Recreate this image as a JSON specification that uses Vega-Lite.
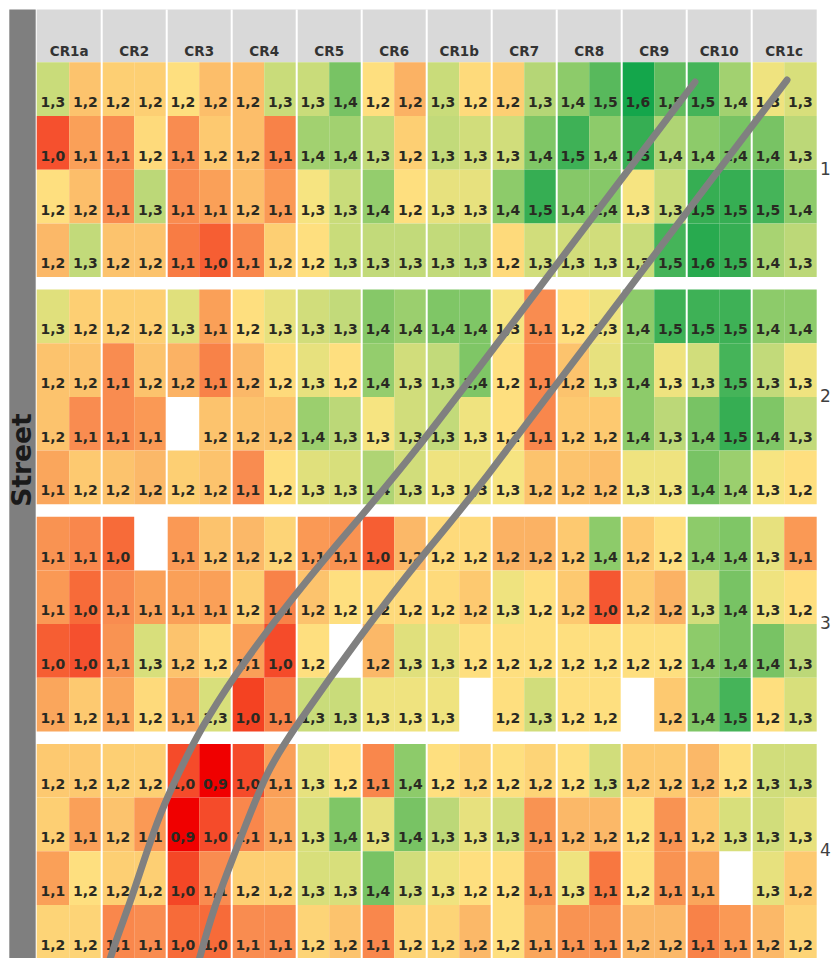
{
"$schema": "https://vega.github.io/schema/vega-lite/v6.json",
"width": 834, "height": 958, "autosize": {"type": "none"}, "padding": 0,
"background": "white",
"config": {"view": {"stroke": null}},
"datasets": {
"cells": [
{"b":1,"r":1,"c":0,"v":1.3,"s":1.32},{"b":1,"r":1,"c":1,"v":1.2,"s":1.19},{"b":1,"r":1,"c":2,"v":1.2,"s":1.21},{"b":1,"r":1,"c":3,"v":1.2,"s":1.21},{"b":1,"r":1,"c":4,"v":1.2,"s":1.24},{"b":1,"r":1,"c":5,"v":1.2,"s":1.18},{"b":1,"r":1,"c":6,"v":1.2,"s":1.18},{"b":1,"r":1,"c":7,"v":1.3,"s":1.32},{"b":1,"r":1,"c":8,"v":1.3,"s":1.32},{"b":1,"r":1,"c":9,"v":1.4,"s":1.44},{"b":1,"r":1,"c":10,"v":1.2,"s":1.24},{"b":1,"r":1,"c":11,"v":1.2,"s":1.16},{"b":1,"r":1,"c":12,"v":1.3,"s":1.32},{"b":1,"r":1,"c":13,"v":1.2,"s":1.23},{"b":1,"r":1,"c":14,"v":1.2,"s":1.21},{"b":1,"r":1,"c":15,"v":1.3,"s":1.35},{"b":1,"r":1,"c":16,"v":1.4,"s":1.41},{"b":1,"r":1,"c":17,"v":1.5,"s":1.48},{"b":1,"r":1,"c":18,"v":1.6,"s":1.6},{"b":1,"r":1,"c":19,"v":1.5,"s":1.47},{"b":1,"r":1,"c":20,"v":1.5,"s":1.5},{"b":1,"r":1,"c":21,"v":1.4,"s":1.38},{"b":1,"r":1,"c":22,"v":1.3,"s":1.27},{"b":1,"r":1,"c":23,"v":1.3,"s":1.3},
{"b":1,"r":2,"c":0,"v":1.0,"s":1.0},{"b":1,"r":2,"c":1,"v":1.1,"s":1.13},{"b":1,"r":2,"c":2,"v":1.1,"s":1.1},{"b":1,"r":2,"c":3,"v":1.2,"s":1.23},{"b":1,"r":2,"c":4,"v":1.1,"s":1.1},{"b":1,"r":2,"c":5,"v":1.2,"s":1.2},{"b":1,"r":2,"c":6,"v":1.2,"s":1.18},{"b":1,"r":2,"c":7,"v":1.1,"s":1.08},{"b":1,"r":2,"c":8,"v":1.4,"s":1.38},{"b":1,"r":2,"c":9,"v":1.4,"s":1.38},{"b":1,"r":2,"c":10,"v":1.3,"s":1.33},{"b":1,"r":2,"c":11,"v":1.2,"s":1.21},{"b":1,"r":2,"c":12,"v":1.3,"s":1.33},{"b":1,"r":2,"c":13,"v":1.3,"s":1.31},{"b":1,"r":2,"c":14,"v":1.3,"s":1.31},{"b":1,"r":2,"c":15,"v":1.4,"s":1.43},{"b":1,"r":2,"c":16,"v":1.5,"s":1.52},{"b":1,"r":2,"c":17,"v":1.4,"s":1.41},{"b":1,"r":2,"c":18,"v":1.5,"s":1.54},{"b":1,"r":2,"c":19,"v":1.4,"s":1.36},{"b":1,"r":2,"c":20,"v":1.4,"s":1.41},{"b":1,"r":2,"c":21,"v":1.4,"s":1.44},{"b":1,"r":2,"c":22,"v":1.4,"s":1.44},{"b":1,"r":2,"c":23,"v":1.3,"s":1.34},
{"b":1,"r":3,"c":0,"v":1.2,"s":1.24},{"b":1,"r":3,"c":1,"v":1.2,"s":1.18},{"b":1,"r":3,"c":2,"v":1.1,"s":1.1},{"b":1,"r":3,"c":3,"v":1.3,"s":1.34},{"b":1,"r":3,"c":4,"v":1.1,"s":1.1},{"b":1,"r":3,"c":5,"v":1.1,"s":1.13},{"b":1,"r":3,"c":6,"v":1.2,"s":1.18},{"b":1,"r":3,"c":7,"v":1.1,"s":1.12},{"b":1,"r":3,"c":8,"v":1.3,"s":1.26},{"b":1,"r":3,"c":9,"v":1.3,"s":1.32},{"b":1,"r":3,"c":10,"v":1.4,"s":1.4},{"b":1,"r":3,"c":11,"v":1.2,"s":1.24},{"b":1,"r":3,"c":12,"v":1.3,"s":1.28},{"b":1,"r":3,"c":13,"v":1.3,"s":1.28},{"b":1,"r":3,"c":14,"v":1.4,"s":1.41},{"b":1,"r":3,"c":15,"v":1.5,"s":1.54},{"b":1,"r":3,"c":16,"v":1.4,"s":1.42},{"b":1,"r":3,"c":17,"v":1.4,"s":1.42},{"b":1,"r":3,"c":18,"v":1.3,"s":1.26},{"b":1,"r":3,"c":19,"v":1.3,"s":1.32},{"b":1,"r":3,"c":20,"v":1.5,"s":1.54},{"b":1,"r":3,"c":21,"v":1.5,"s":1.54},{"b":1,"r":3,"c":22,"v":1.5,"s":1.5},{"b":1,"r":3,"c":23,"v":1.4,"s":1.41},
{"b":1,"r":4,"c":0,"v":1.2,"s":1.17},{"b":1,"r":4,"c":1,"v":1.3,"s":1.33},{"b":1,"r":4,"c":2,"v":1.2,"s":1.19},{"b":1,"r":4,"c":3,"v":1.2,"s":1.19},{"b":1,"r":4,"c":4,"v":1.1,"s":1.07},{"b":1,"r":4,"c":5,"v":1.0,"s":1.02},{"b":1,"r":4,"c":6,"v":1.1,"s":1.09},{"b":1,"r":4,"c":7,"v":1.2,"s":1.21},{"b":1,"r":4,"c":8,"v":1.2,"s":1.24},{"b":1,"r":4,"c":9,"v":1.3,"s":1.32},{"b":1,"r":4,"c":10,"v":1.3,"s":1.33},{"b":1,"r":4,"c":11,"v":1.3,"s":1.33},{"b":1,"r":4,"c":12,"v":1.3,"s":1.33},{"b":1,"r":4,"c":13,"v":1.3,"s":1.34},{"b":1,"r":4,"c":14,"v":1.2,"s":1.23},{"b":1,"r":4,"c":15,"v":1.3,"s":1.31},{"b":1,"r":4,"c":16,"v":1.3,"s":1.31},{"b":1,"r":4,"c":17,"v":1.3,"s":1.31},{"b":1,"r":4,"c":18,"v":1.3,"s":1.32},{"b":1,"r":4,"c":19,"v":1.5,"s":1.5},{"b":1,"r":4,"c":20,"v":1.6,"s":1.57},{"b":1,"r":4,"c":21,"v":1.5,"s":1.54},{"b":1,"r":4,"c":22,"v":1.4,"s":1.37},{"b":1,"r":4,"c":23,"v":1.3,"s":1.34},
{"b":2,"r":1,"c":0,"v":1.3,"s":1.29},{"b":2,"r":1,"c":1,"v":1.2,"s":1.21},{"b":2,"r":1,"c":2,"v":1.2,"s":1.21},{"b":2,"r":1,"c":3,"v":1.2,"s":1.21},{"b":2,"r":1,"c":4,"v":1.3,"s":1.29},{"b":2,"r":1,"c":5,"v":1.1,"s":1.13},{"b":2,"r":1,"c":6,"v":1.2,"s":1.24},{"b":2,"r":1,"c":7,"v":1.3,"s":1.28},{"b":2,"r":1,"c":8,"v":1.3,"s":1.31},{"b":2,"r":1,"c":9,"v":1.3,"s":1.33},{"b":2,"r":1,"c":10,"v":1.4,"s":1.42},{"b":2,"r":1,"c":11,"v":1.4,"s":1.39},{"b":2,"r":1,"c":12,"v":1.4,"s":1.43},{"b":2,"r":1,"c":13,"v":1.4,"s":1.43},{"b":2,"r":1,"c":14,"v":1.3,"s":1.26},{"b":2,"r":1,"c":15,"v":1.1,"s":1.1},{"b":2,"r":1,"c":16,"v":1.2,"s":1.24},{"b":2,"r":1,"c":17,"v":1.3,"s":1.27},{"b":2,"r":1,"c":18,"v":1.4,"s":1.41},{"b":2,"r":1,"c":19,"v":1.5,"s":1.52},{"b":2,"r":1,"c":20,"v":1.5,"s":1.52},{"b":2,"r":1,"c":21,"v":1.5,"s":1.52},{"b":2,"r":1,"c":22,"v":1.4,"s":1.41},{"b":2,"r":1,"c":23,"v":1.4,"s":1.41},
{"b":2,"r":2,"c":0,"v":1.2,"s":1.19},{"b":2,"r":2,"c":1,"v":1.2,"s":1.19},{"b":2,"r":2,"c":2,"v":1.1,"s":1.1},{"b":2,"r":2,"c":3,"v":1.2,"s":1.19},{"b":2,"r":2,"c":4,"v":1.2,"s":1.16},{"b":2,"r":2,"c":5,"v":1.1,"s":1.08},{"b":2,"r":2,"c":6,"v":1.2,"s":1.17},{"b":2,"r":2,"c":7,"v":1.2,"s":1.23},{"b":2,"r":2,"c":8,"v":1.3,"s":1.28},{"b":2,"r":2,"c":9,"v":1.2,"s":1.24},{"b":2,"r":2,"c":10,"v":1.4,"s":1.4},{"b":2,"r":2,"c":11,"v":1.3,"s":1.31},{"b":2,"r":2,"c":12,"v":1.3,"s":1.33},{"b":2,"r":2,"c":13,"v":1.4,"s":1.43},{"b":2,"r":2,"c":14,"v":1.2,"s":1.24},{"b":2,"r":2,"c":15,"v":1.1,"s":1.09},{"b":2,"r":2,"c":16,"v":1.2,"s":1.19},{"b":2,"r":2,"c":17,"v":1.3,"s":1.28},{"b":2,"r":2,"c":18,"v":1.4,"s":1.41},{"b":2,"r":2,"c":19,"v":1.3,"s":1.27},{"b":2,"r":2,"c":20,"v":1.3,"s":1.31},{"b":2,"r":2,"c":21,"v":1.5,"s":1.5},{"b":2,"r":2,"c":22,"v":1.3,"s":1.33},{"b":2,"r":2,"c":23,"v":1.3,"s":1.27},
{"b":2,"r":3,"c":0,"v":1.2,"s":1.19},{"b":2,"r":3,"c":1,"v":1.1,"s":1.1},{"b":2,"r":3,"c":2,"v":1.1,"s":1.1},{"b":2,"r":3,"c":3,"v":1.1,"s":1.12},{"b":2,"r":3,"c":4,"v":null,"s":null},{"b":2,"r":3,"c":5,"v":1.2,"s":1.19},{"b":2,"r":3,"c":6,"v":1.2,"s":1.19},{"b":2,"r":3,"c":7,"v":1.2,"s":1.19},{"b":2,"r":3,"c":8,"v":1.4,"s":1.39},{"b":2,"r":3,"c":9,"v":1.3,"s":1.34},{"b":2,"r":3,"c":10,"v":1.3,"s":1.26},{"b":2,"r":3,"c":11,"v":1.3,"s":1.31},{"b":2,"r":3,"c":12,"v":1.3,"s":1.33},{"b":2,"r":3,"c":13,"v":1.3,"s":1.27},{"b":2,"r":3,"c":14,"v":1.2,"s":1.24},{"b":2,"r":3,"c":15,"v":1.1,"s":1.09},{"b":2,"r":3,"c":16,"v":1.2,"s":1.2},{"b":2,"r":3,"c":17,"v":1.2,"s":1.2},{"b":2,"r":3,"c":18,"v":1.4,"s":1.41},{"b":2,"r":3,"c":19,"v":1.3,"s":1.34},{"b":2,"r":3,"c":20,"v":1.4,"s":1.44},{"b":2,"r":3,"c":21,"v":1.5,"s":1.54},{"b":2,"r":3,"c":22,"v":1.4,"s":1.43},{"b":2,"r":3,"c":23,"v":1.3,"s":1.33},
{"b":2,"r":4,"c":0,"v":1.1,"s":1.14},{"b":2,"r":4,"c":1,"v":1.2,"s":1.2},{"b":2,"r":4,"c":2,"v":1.2,"s":1.19},{"b":2,"r":4,"c":3,"v":1.2,"s":1.17},{"b":2,"r":4,"c":4,"v":1.2,"s":1.21},{"b":2,"r":4,"c":5,"v":1.2,"s":1.19},{"b":2,"r":4,"c":6,"v":1.1,"s":1.1},{"b":2,"r":4,"c":7,"v":1.2,"s":1.24},{"b":2,"r":4,"c":8,"v":1.3,"s":1.29},{"b":2,"r":4,"c":9,"v":1.3,"s":1.3},{"b":2,"r":4,"c":10,"v":1.4,"s":1.36},{"b":2,"r":4,"c":11,"v":1.3,"s":1.31},{"b":2,"r":4,"c":12,"v":1.3,"s":1.27},{"b":2,"r":4,"c":13,"v":1.3,"s":1.27},{"b":2,"r":4,"c":14,"v":1.3,"s":1.26},{"b":2,"r":4,"c":15,"v":1.2,"s":1.19},{"b":2,"r":4,"c":16,"v":1.2,"s":1.19},{"b":2,"r":4,"c":17,"v":1.2,"s":1.18},{"b":2,"r":4,"c":18,"v":1.3,"s":1.27},{"b":2,"r":4,"c":19,"v":1.3,"s":1.27},{"b":2,"r":4,"c":20,"v":1.4,"s":1.44},{"b":2,"r":4,"c":21,"v":1.4,"s":1.39},{"b":2,"r":4,"c":22,"v":1.3,"s":1.26},{"b":2,"r":4,"c":23,"v":1.2,"s":1.24},
{"b":3,"r":1,"c":0,"v":1.1,"s":1.11},{"b":3,"r":1,"c":1,"v":1.1,"s":1.09},{"b":3,"r":1,"c":2,"v":1.0,"s":1.04},{"b":3,"r":1,"c":3,"v":null,"s":null},{"b":3,"r":1,"c":4,"v":1.1,"s":1.12},{"b":3,"r":1,"c":5,"v":1.2,"s":1.19},{"b":3,"r":1,"c":6,"v":1.2,"s":1.17},{"b":3,"r":1,"c":7,"v":1.2,"s":1.22},{"b":3,"r":1,"c":8,"v":1.1,"s":1.12},{"b":3,"r":1,"c":9,"v":1.1,"s":1.11},{"b":3,"r":1,"c":10,"v":1.0,"s":1.02},{"b":3,"r":1,"c":11,"v":1.2,"s":1.17},{"b":3,"r":1,"c":12,"v":1.2,"s":1.23},{"b":3,"r":1,"c":13,"v":1.2,"s":1.23},{"b":3,"r":1,"c":14,"v":1.2,"s":1.16},{"b":3,"r":1,"c":15,"v":1.2,"s":1.16},{"b":3,"r":1,"c":16,"v":1.2,"s":1.2},{"b":3,"r":1,"c":17,"v":1.4,"s":1.41},{"b":3,"r":1,"c":18,"v":1.2,"s":1.2},{"b":3,"r":1,"c":19,"v":1.2,"s":1.24},{"b":3,"r":1,"c":20,"v":1.4,"s":1.41},{"b":3,"r":1,"c":21,"v":1.4,"s":1.43},{"b":3,"r":1,"c":22,"v":1.3,"s":1.28},{"b":3,"r":1,"c":23,"v":1.1,"s":1.12},
{"b":3,"r":2,"c":0,"v":1.1,"s":1.12},{"b":3,"r":2,"c":1,"v":1.0,"s":1.04},{"b":3,"r":2,"c":2,"v":1.1,"s":1.1},{"b":3,"r":2,"c":3,"v":1.1,"s":1.13},{"b":3,"r":2,"c":4,"v":1.1,"s":1.13},{"b":3,"r":2,"c":5,"v":1.1,"s":1.13},{"b":3,"r":2,"c":6,"v":1.2,"s":1.21},{"b":3,"r":2,"c":7,"v":1.1,"s":1.08},{"b":3,"r":2,"c":8,"v":1.2,"s":1.19},{"b":3,"r":2,"c":9,"v":1.2,"s":1.24},{"b":3,"r":2,"c":10,"v":1.2,"s":1.23},{"b":3,"r":2,"c":11,"v":1.2,"s":1.23},{"b":3,"r":2,"c":12,"v":1.2,"s":1.23},{"b":3,"r":2,"c":13,"v":1.2,"s":1.2},{"b":3,"r":2,"c":14,"v":1.3,"s":1.27},{"b":3,"r":2,"c":15,"v":1.2,"s":1.24},{"b":3,"r":2,"c":16,"v":1.2,"s":1.2},{"b":3,"r":2,"c":17,"v":1.0,"s":1.01},{"b":3,"r":2,"c":18,"v":1.2,"s":1.2},{"b":3,"r":2,"c":19,"v":1.2,"s":1.16},{"b":3,"r":2,"c":20,"v":1.3,"s":1.31},{"b":3,"r":2,"c":21,"v":1.4,"s":1.44},{"b":3,"r":2,"c":22,"v":1.3,"s":1.27},{"b":3,"r":2,"c":23,"v":1.2,"s":1.24},
{"b":3,"r":3,"c":0,"v":1.0,"s":1.02},{"b":3,"r":3,"c":1,"v":1.0,"s":1.0},{"b":3,"r":3,"c":2,"v":1.1,"s":1.11},{"b":3,"r":3,"c":3,"v":1.3,"s":1.3},{"b":3,"r":3,"c":4,"v":1.2,"s":1.19},{"b":3,"r":3,"c":5,"v":1.2,"s":1.23},{"b":3,"r":3,"c":6,"v":1.1,"s":1.13},{"b":3,"r":3,"c":7,"v":1.0,"s":0.99},{"b":3,"r":3,"c":8,"v":1.2,"s":1.24},{"b":3,"r":3,"c":9,"v":null,"s":null},{"b":3,"r":3,"c":10,"v":1.2,"s":1.17},{"b":3,"r":3,"c":11,"v":1.3,"s":1.29},{"b":3,"r":3,"c":12,"v":1.3,"s":1.28},{"b":3,"r":3,"c":13,"v":1.2,"s":1.24},{"b":3,"r":3,"c":14,"v":1.2,"s":1.24},{"b":3,"r":3,"c":15,"v":1.2,"s":1.24},{"b":3,"r":3,"c":16,"v":1.2,"s":1.24},{"b":3,"r":3,"c":17,"v":1.2,"s":1.24},{"b":3,"r":3,"c":18,"v":1.2,"s":1.24},{"b":3,"r":3,"c":19,"v":1.2,"s":1.24},{"b":3,"r":3,"c":20,"v":1.4,"s":1.41},{"b":3,"r":3,"c":21,"v":1.4,"s":1.44},{"b":3,"r":3,"c":22,"v":1.4,"s":1.44},{"b":3,"r":3,"c":23,"v":1.3,"s":1.34},
{"b":3,"r":4,"c":0,"v":1.1,"s":1.14},{"b":3,"r":4,"c":1,"v":1.2,"s":1.2},{"b":3,"r":4,"c":2,"v":1.1,"s":1.14},{"b":3,"r":4,"c":3,"v":1.2,"s":1.23},{"b":3,"r":4,"c":4,"v":1.1,"s":1.14},{"b":3,"r":4,"c":5,"v":1.3,"s":1.3},{"b":3,"r":4,"c":6,"v":1.0,"s":0.97},{"b":3,"r":4,"c":7,"v":1.1,"s":1.08},{"b":3,"r":4,"c":8,"v":1.3,"s":1.32},{"b":3,"r":4,"c":9,"v":1.3,"s":1.32},{"b":3,"r":4,"c":10,"v":1.3,"s":1.27},{"b":3,"r":4,"c":11,"v":1.3,"s":1.27},{"b":3,"r":4,"c":12,"v":1.3,"s":1.27},{"b":3,"r":4,"c":13,"v":null,"s":null},{"b":3,"r":4,"c":14,"v":1.2,"s":1.24},{"b":3,"r":4,"c":15,"v":1.3,"s":1.31},{"b":3,"r":4,"c":16,"v":1.2,"s":1.24},{"b":3,"r":4,"c":17,"v":1.2,"s":1.24},{"b":3,"r":4,"c":18,"v":null,"s":null},{"b":3,"r":4,"c":19,"v":1.2,"s":1.2},{"b":3,"r":4,"c":20,"v":1.4,"s":1.43},{"b":3,"r":4,"c":21,"v":1.5,"s":1.5},{"b":3,"r":4,"c":22,"v":1.2,"s":1.24},{"b":3,"r":4,"c":23,"v":1.3,"s":1.3},
{"b":4,"r":1,"c":0,"v":1.2,"s":1.2},{"b":4,"r":1,"c":1,"v":1.2,"s":1.2},{"b":4,"r":1,"c":2,"v":1.2,"s":1.21},{"b":4,"r":1,"c":3,"v":1.2,"s":1.21},{"b":4,"r":1,"c":4,"v":1.0,"s":0.99},{"b":4,"r":1,"c":5,"v":0.9,"s":0.9},{"b":4,"r":1,"c":6,"v":1.0,"s":0.99},{"b":4,"r":1,"c":7,"v":1.1,"s":1.13},{"b":4,"r":1,"c":8,"v":1.3,"s":1.28},{"b":4,"r":1,"c":9,"v":1.2,"s":1.24},{"b":4,"r":1,"c":10,"v":1.1,"s":1.09},{"b":4,"r":1,"c":11,"v":1.4,"s":1.41},{"b":4,"r":1,"c":12,"v":1.2,"s":1.24},{"b":4,"r":1,"c":13,"v":1.2,"s":1.22},{"b":4,"r":1,"c":14,"v":1.2,"s":1.24},{"b":4,"r":1,"c":15,"v":1.2,"s":1.22},{"b":4,"r":1,"c":16,"v":1.2,"s":1.24},{"b":4,"r":1,"c":17,"v":1.3,"s":1.31},{"b":4,"r":1,"c":18,"v":1.2,"s":1.2},{"b":4,"r":1,"c":19,"v":1.2,"s":1.2},{"b":4,"r":1,"c":20,"v":1.2,"s":1.17},{"b":4,"r":1,"c":21,"v":1.2,"s":1.24},{"b":4,"r":1,"c":22,"v":1.3,"s":1.31},{"b":4,"r":1,"c":23,"v":1.3,"s":1.31},
{"b":4,"r":2,"c":0,"v":1.2,"s":1.21},{"b":4,"r":2,"c":1,"v":1.1,"s":1.13},{"b":4,"r":2,"c":2,"v":1.2,"s":1.19},{"b":4,"r":2,"c":3,"v":1.1,"s":1.12},{"b":4,"r":2,"c":4,"v":0.9,"s":0.9},{"b":4,"r":2,"c":5,"v":1.0,"s":0.99},{"b":4,"r":2,"c":6,"v":1.1,"s":1.09},{"b":4,"r":2,"c":7,"v":1.1,"s":1.14},{"b":4,"r":2,"c":8,"v":1.3,"s":1.3},{"b":4,"r":2,"c":9,"v":1.4,"s":1.43},{"b":4,"r":2,"c":10,"v":1.3,"s":1.28},{"b":4,"r":2,"c":11,"v":1.4,"s":1.44},{"b":4,"r":2,"c":12,"v":1.3,"s":1.34},{"b":4,"r":2,"c":13,"v":1.3,"s":1.28},{"b":4,"r":2,"c":14,"v":1.3,"s":1.31},{"b":4,"r":2,"c":15,"v":1.1,"s":1.11},{"b":4,"r":2,"c":16,"v":1.2,"s":1.17},{"b":4,"r":2,"c":17,"v":1.2,"s":1.17},{"b":4,"r":2,"c":18,"v":1.2,"s":1.24},{"b":4,"r":2,"c":19,"v":1.1,"s":1.11},{"b":4,"r":2,"c":20,"v":1.2,"s":1.2},{"b":4,"r":2,"c":21,"v":1.3,"s":1.3},{"b":4,"r":2,"c":22,"v":1.3,"s":1.31},{"b":4,"r":2,"c":23,"v":1.3,"s":1.28},
{"b":4,"r":3,"c":0,"v":1.1,"s":1.13},{"b":4,"r":3,"c":1,"v":1.2,"s":1.24},{"b":4,"r":3,"c":2,"v":1.2,"s":1.21},{"b":4,"r":3,"c":3,"v":1.2,"s":1.21},{"b":4,"r":3,"c":4,"v":1.0,"s":0.98},{"b":4,"r":3,"c":5,"v":1.1,"s":1.1},{"b":4,"r":3,"c":6,"v":1.2,"s":1.21},{"b":4,"r":3,"c":7,"v":1.2,"s":1.21},{"b":4,"r":3,"c":8,"v":1.3,"s":1.3},{"b":4,"r":3,"c":9,"v":1.3,"s":1.3},{"b":4,"r":3,"c":10,"v":1.4,"s":1.44},{"b":4,"r":3,"c":11,"v":1.3,"s":1.31},{"b":4,"r":3,"c":12,"v":1.3,"s":1.27},{"b":4,"r":3,"c":13,"v":1.2,"s":1.24},{"b":4,"r":3,"c":14,"v":1.2,"s":1.24},{"b":4,"r":3,"c":15,"v":1.1,"s":1.11},{"b":4,"r":3,"c":16,"v":1.3,"s":1.27},{"b":4,"r":3,"c":17,"v":1.1,"s":1.06},{"b":4,"r":3,"c":18,"v":1.2,"s":1.24},{"b":4,"r":3,"c":19,"v":1.1,"s":1.11},{"b":4,"r":3,"c":20,"v":1.1,"s":1.14},{"b":4,"r":3,"c":21,"v":null,"s":null},{"b":4,"r":3,"c":22,"v":1.3,"s":1.28},{"b":4,"r":3,"c":23,"v":1.2,"s":1.2},
{"b":4,"r":4,"c":0,"v":1.2,"s":1.22},{"b":4,"r":4,"c":1,"v":1.2,"s":1.22},{"b":4,"r":4,"c":2,"v":1.1,"s":1.09},{"b":4,"r":4,"c":3,"v":1.1,"s":1.1},{"b":4,"r":4,"c":4,"v":1.0,"s":1.04},{"b":4,"r":4,"c":5,"v":1.0,"s":1.04},{"b":4,"r":4,"c":6,"v":1.1,"s":1.1},{"b":4,"r":4,"c":7,"v":1.1,"s":1.1},{"b":4,"r":4,"c":8,"v":1.2,"s":1.22},{"b":4,"r":4,"c":9,"v":1.2,"s":1.19},{"b":4,"r":4,"c":10,"v":1.1,"s":1.09},{"b":4,"r":4,"c":11,"v":1.2,"s":1.22},{"b":4,"r":4,"c":12,"v":1.2,"s":1.22},{"b":4,"r":4,"c":13,"v":1.2,"s":1.17},{"b":4,"r":4,"c":14,"v":1.2,"s":1.24},{"b":4,"r":4,"c":15,"v":1.1,"s":1.14},{"b":4,"r":4,"c":16,"v":1.1,"s":1.11},{"b":4,"r":4,"c":17,"v":1.1,"s":1.11},{"b":4,"r":4,"c":18,"v":1.2,"s":1.17},{"b":4,"r":4,"c":19,"v":1.2,"s":1.17},{"b":4,"r":4,"c":20,"v":1.1,"s":1.08},{"b":4,"r":4,"c":21,"v":1.1,"s":1.12},{"b":4,"r":4,"c":22,"v":1.2,"s":1.17},{"b":4,"r":4,"c":23,"v":1.2,"s":1.22}
],
"groups": [
{"i":0,"name":"CR1a"},{"i":1,"name":"CR2"},{"i":2,"name":"CR3"},{"i":3,"name":"CR4"},{"i":4,"name":"CR5"},{"i":5,"name":"CR6"},{"i":6,"name":"CR1b"},{"i":7,"name":"CR7"},{"i":8,"name":"CR8"},{"i":9,"name":"CR9"},{"i":10,"name":"CR10"},{"i":11,"name":"CR1c"}
],
"blocks": [{"b":1},{"b":2},{"b":3},{"b":4}],
"curves": [
{"id":"A","o":1,"col":20.255,"row":0.367},{"id":"A","o":2,"col":15.240,"row":4.371},{"id":"A","o":3,"col":11.486,"row":7.406},{"id":"A","o":4,"col":9.025,"row":9.119},{"id":"A","o":5,"col":7.578,"row":10.199},{"id":"A","o":6,"col":6.040,"row":11.447},{"id":"A","o":7,"col":5.025,"row":12.434},{"id":"A","o":8,"col":4.409,"row":13.179},{"id":"A","o":9,"col":3.794,"row":13.980},{"id":"A","o":10,"col":3.271,"row":14.911},{"id":"A","o":11,"col":2.871,"row":15.655},{"id":"A","o":12,"col":2.409,"row":16.400},{"id":"A","o":13,"col":2.102,"row":16.996},
{"id":"B","o":1,"col":23.086,"row":0.330},{"id":"B","o":2,"col":17.948,"row":4.426},{"id":"B","o":3,"col":13.332,"row":8.151},{"id":"B","o":4,"col":11.948,"row":9.119},{"id":"B","o":5,"col":10.009,"row":10.628},{"id":"B","o":6,"col":7.886,"row":12.434},{"id":"B","o":7,"col":7.086,"row":13.179},{"id":"B","o":8,"col":6.255,"row":14.482},{"id":"B","o":9,"col":5.425,"row":15.756},{"id":"B","o":10,"col":4.871,"row":16.996}
],
"one": [{"t":"Street"}]
},
"layer": [
{"data": {"name": "one"},
 "mark": {"type": "rect", "color": "#d9d9d9"},
 "encoding": {
  "x": {"datum": 0, "type": "quantitative", "scale": {"domain": [-1.1292, 24.532], "nice": false, "zero": false}, "axis": null},
  "x2": {"datum": 24},
  "y": {"datum": -0.983, "type": "quantitative", "scale": {"domain": [-1.160, 16.680], "nice": false, "zero": false, "reverse": true}, "axis": null},
  "y2": {"datum": 0}
 }},
{"data": {"name": "one"},
 "mark": {"type": "rect", "color": "#7f7f7f"},
 "encoding": {
  "x": {"datum": -0.843, "type": "quantitative"},
  "x2": {"datum": -0.031},
  "y": {"datum": -0.983, "type": "quantitative"},
  "y2": {"datum": 16.68}
 }},
{"data": {"name": "cells"},
 "transform": [
  {"filter": "datum.v != null"},
  {"calculate": "(datum.b - 1) * 4.231 + datum.r - 1", "as": "y0"},
  {"calculate": "datum.y0 + 1", "as": "y1"},
  {"calculate": "datum.c + 1", "as": "x1"}
 ],
 "mark": {"type": "rect"},
 "encoding": {
  "x": {"field": "c", "type": "quantitative"},
  "x2": {"field": "x1"},
  "y": {"field": "y0", "type": "quantitative"},
  "y2": {"field": "y1"},
  "color": {"field": "s", "type": "quantitative", "legend": null,
   "scale": {"domain": [0.9, 1.0, 1.1, 1.17, 1.25, 1.33, 1.4, 1.5, 1.6],
             "range": ["#f00000", "#f5502e", "#f98c50", "#fbb868", "#fee583", "#c2da7a", "#94cd6d", "#45b459", "#14a64b"]}}
 }},
{"data": {"name": "groups"},
 "transform": [{"filter": "datum.i > 0"}, {"calculate": "2 * datum.i", "as": "gx"}],
 "mark": {"type": "rule", "color": "white", "strokeWidth": 2},
 "encoding": {
  "x": {"field": "gx", "type": "quantitative"},
  "y": {"datum": -0.983, "type": "quantitative"},
  "y2": {"datum": 16.68}
 }},
{"data": {"name": "groups"},
 "transform": [{"calculate": "2 * datum.i + 1", "as": "tx"}],
 "mark": {"type": "text", "font": "DejaVu Sans", "fontWeight": "bold", "fontSize": 13.5, "color": "#333333", "baseline": "middle", "align": "center"},
 "encoding": {
  "x": {"field": "tx", "type": "quantitative"},
  "y": {"datum": -0.19, "type": "quantitative"},
  "text": {"field": "name"}
 }},
{"data": {"name": "cells"},
 "transform": [
  {"filter": "datum.v != null"},
  {"calculate": "(datum.b - 1) * 4.231 + datum.r - 1 + 0.76", "as": "yt"},
  {"calculate": "datum.c + 0.5", "as": "xt"},
  {"calculate": "replace(format(datum.v, '.1f'), '.', ',')", "as": "lbl"}
 ],
 "mark": {"type": "text", "font": "DejaVu Sans", "fontWeight": "bold", "fontSize": 14, "color": "#2a2a22", "baseline": "middle", "align": "center"},
 "encoding": {
  "x": {"field": "xt", "type": "quantitative"},
  "y": {"field": "yt", "type": "quantitative"},
  "text": {"field": "lbl"}
 }},
{"data": {"name": "curves"},
 "mark": {"type": "line", "color": "#808080", "strokeWidth": 7, "strokeCap": "round", "interpolate": "basis"},
 "encoding": {
  "x": {"field": "col", "type": "quantitative"},
  "y": {"field": "row", "type": "quantitative"},
  "detail": {"field": "id"},
  "order": {"field": "o", "type": "quantitative"}
 }},
{"data": {"name": "blocks"},
 "transform": [{"calculate": "(datum.b - 1) * 4.231 + 2", "as": "yc"}],
 "mark": {"type": "text", "font": "DejaVu Sans", "fontSize": 17, "color": "#404040", "baseline": "middle", "align": "center"},
 "encoding": {
  "x": {"datum": 24.27, "type": "quantitative"},
  "y": {"field": "yc", "type": "quantitative"},
  "text": {"field": "b"}
 }},
{"data": {"name": "one"},
 "mark": {"type": "text", "font": "DejaVu Sans", "fontWeight": "bold", "fontSize": 26.5, "color": "#1a1a1a", "angle": 270, "baseline": "middle", "align": "center"},
 "encoding": {
  "x": {"datum": -0.43, "type": "quantitative"},
  "y": {"datum": 7.406, "type": "quantitative"},
  "text": {"field": "t"}
 }}
]
}
